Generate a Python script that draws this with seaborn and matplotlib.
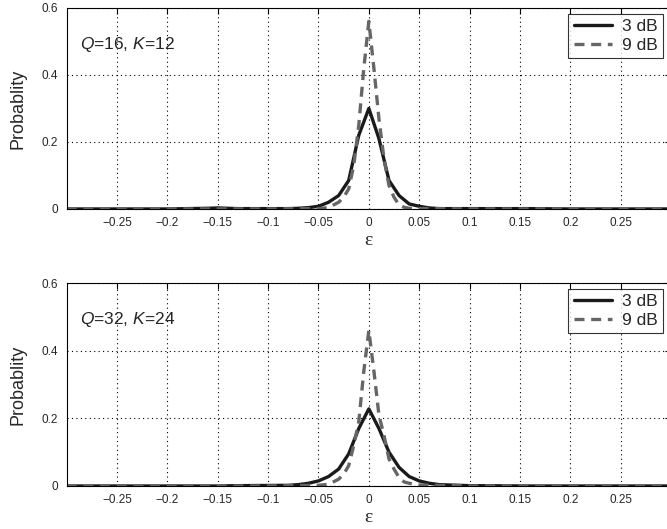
import pandas as pd
import seaborn as sns
import matplotlib.pyplot as plt

sns.set_style("white")
plt.rcParams['font.family'] = ['Liberation Sans', 'DejaVu Sans']
plt.rcParams['mathtext.fontset'] = 'custom'
plt.rcParams['mathtext.it'] = 'Liberation Sans:italic'
plt.rcParams['mathtext.rm'] = 'Liberation Sans'

# dados
x_3db = [-0.30, -0.2, -0.16, -0.15, -0.13, -0.08, -0.07, -0.06, -0.05, -0.04, -0.03, -0.02, -0.01,
         0.0, 0.01, 0.02, 0.03, 0.04, 0.05, 0.06, 0.07, 0.1, 0.16, 0.2, 0.30]
top_3db = [0.0, 0.0, 0.002, 0.003, 0.001, 0.001, 0.002, 0.004, 0.008, 0.02, 0.04, 0.085, 0.22,
           0.30, 0.21, 0.085, 0.04, 0.015, 0.008, 0.003, 0.001, 0.001, 0.001, 0.0, 0.0]
bot_3db = [0.0, 0.0, 0.0, 0.0, 0.001, 0.002, 0.004, 0.008, 0.015, 0.028, 0.05, 0.095, 0.17,
           0.228, 0.17, 0.10, 0.055, 0.028, 0.015, 0.008, 0.004, 0.001, 0.0, 0.0, 0.0]

x_9db = [-0.30, -0.1, -0.05, -0.04, -0.03, -0.025, -0.02, -0.015, -0.01, -0.005,
         0.0, 0.005, 0.01, 0.015, 0.02, 0.025, 0.03, 0.035, 0.04, 0.05, 0.1, 0.30]
top_9db = [0.0, 0.0, 0.001, 0.004, 0.02, 0.035, 0.06, 0.13, 0.25, 0.42,
           0.56, 0.42, 0.27, 0.15, 0.07, 0.035, 0.012, 0.005, 0.002, 0.001, 0.0, 0.0]
bot_9db = [0.0, 0.0, 0.002, 0.005, 0.02, 0.035, 0.06, 0.12, 0.19, 0.34,
           0.46, 0.34, 0.21, 0.15, 0.08, 0.05, 0.025, 0.012, 0.008, 0.003, 0.0, 0.0]

xticks = [-0.25, -0.2, -0.15, -0.1, -0.05, 0, 0.05, 0.1, 0.15, 0.2, 0.25]
xtick_labels = ['\u22120.25', '\u22120.2', '\u22120.15', '\u22120.1', '\u22120.05', '0',
                '0.05', '0.1', '0.15', '0.2', '0.25']
yticks = [0, 0.2, 0.4, 0.6]
ytick_labels = ['0', '0.2', '0.4', '0.6']

paineis = [
    (top_3db, top_9db, ('Q', '16', 'K', '12')),
    (bot_3db, bot_9db, ('Q', '32', 'K', '24')),
]

fig = plt.figure(figsize=(6.67, 5.29), dpi=100)
posicoes = [[0.100, 0.605, 0.906, 0.380], [0.100, 0.0813, 0.906, 0.3837]]

for pos, (y3, y9, rotulo) in zip(posicoes, paineis):
    ax = fig.add_axes(pos)
    df3 = pd.DataFrame({'eps': x_3db, 'prob': y3})
    df9 = pd.DataFrame({'eps': x_9db, 'prob': y9})
    sns.lineplot(data=df3, x='eps', y='prob', ax=ax, color='#1a1a1a', lw=2.4, label='3 dB')
    sns.lineplot(data=df9, x='eps', y='prob', ax=ax, color='#666666', lw=2.4,
                 linestyle=(0, (3, 2)), label='9 dB')
    ax.set_xlim(-0.3, 0.3)
    ax.set_ylim(0, 0.6)
    ax.set_xticks(xticks)
    ax.set_xticklabels(xtick_labels)
    ax.set_yticks(yticks)
    ax.set_yticklabels(ytick_labels)
    ax.grid(True, color='black', linestyle=(0, (1, 3)), lw=0.8)
    ax.tick_params(direction='in', length=4, labelsize=8.5, top=True, right=True,
                   color='black', pad=6)
    for s in ax.spines.values():
        s.set_color('black')
        s.set_linewidth(0.8)
    ax.set_xlabel('\u03b5', fontsize=14, family=['Liberation Serif', 'DejaVu Serif'], labelpad=2)
    ax.set_ylabel('Probablity', fontsize=13, labelpad=11)
    ax.text(0.022, 0.82, '$\\mathit{%s}$=%s, $\\mathit{%s}$=%s' % rotulo,
            transform=ax.transAxes, fontsize=12.5, va='center', ha='left')
    leg = ax.legend(loc='upper right', bbox_to_anchor=(0.987, 0.97), borderaxespad=0,
                    fontsize=12.5, frameon=True, fancybox=False, handlelength=2.2,
                    labelspacing=0.2, borderpad=0.3, handletextpad=0.6)
    leg.get_frame().set_edgecolor('black')
    leg.get_frame().set_linewidth(0.8)

plt.savefig('out.png', dpi=100)
plt.close()
